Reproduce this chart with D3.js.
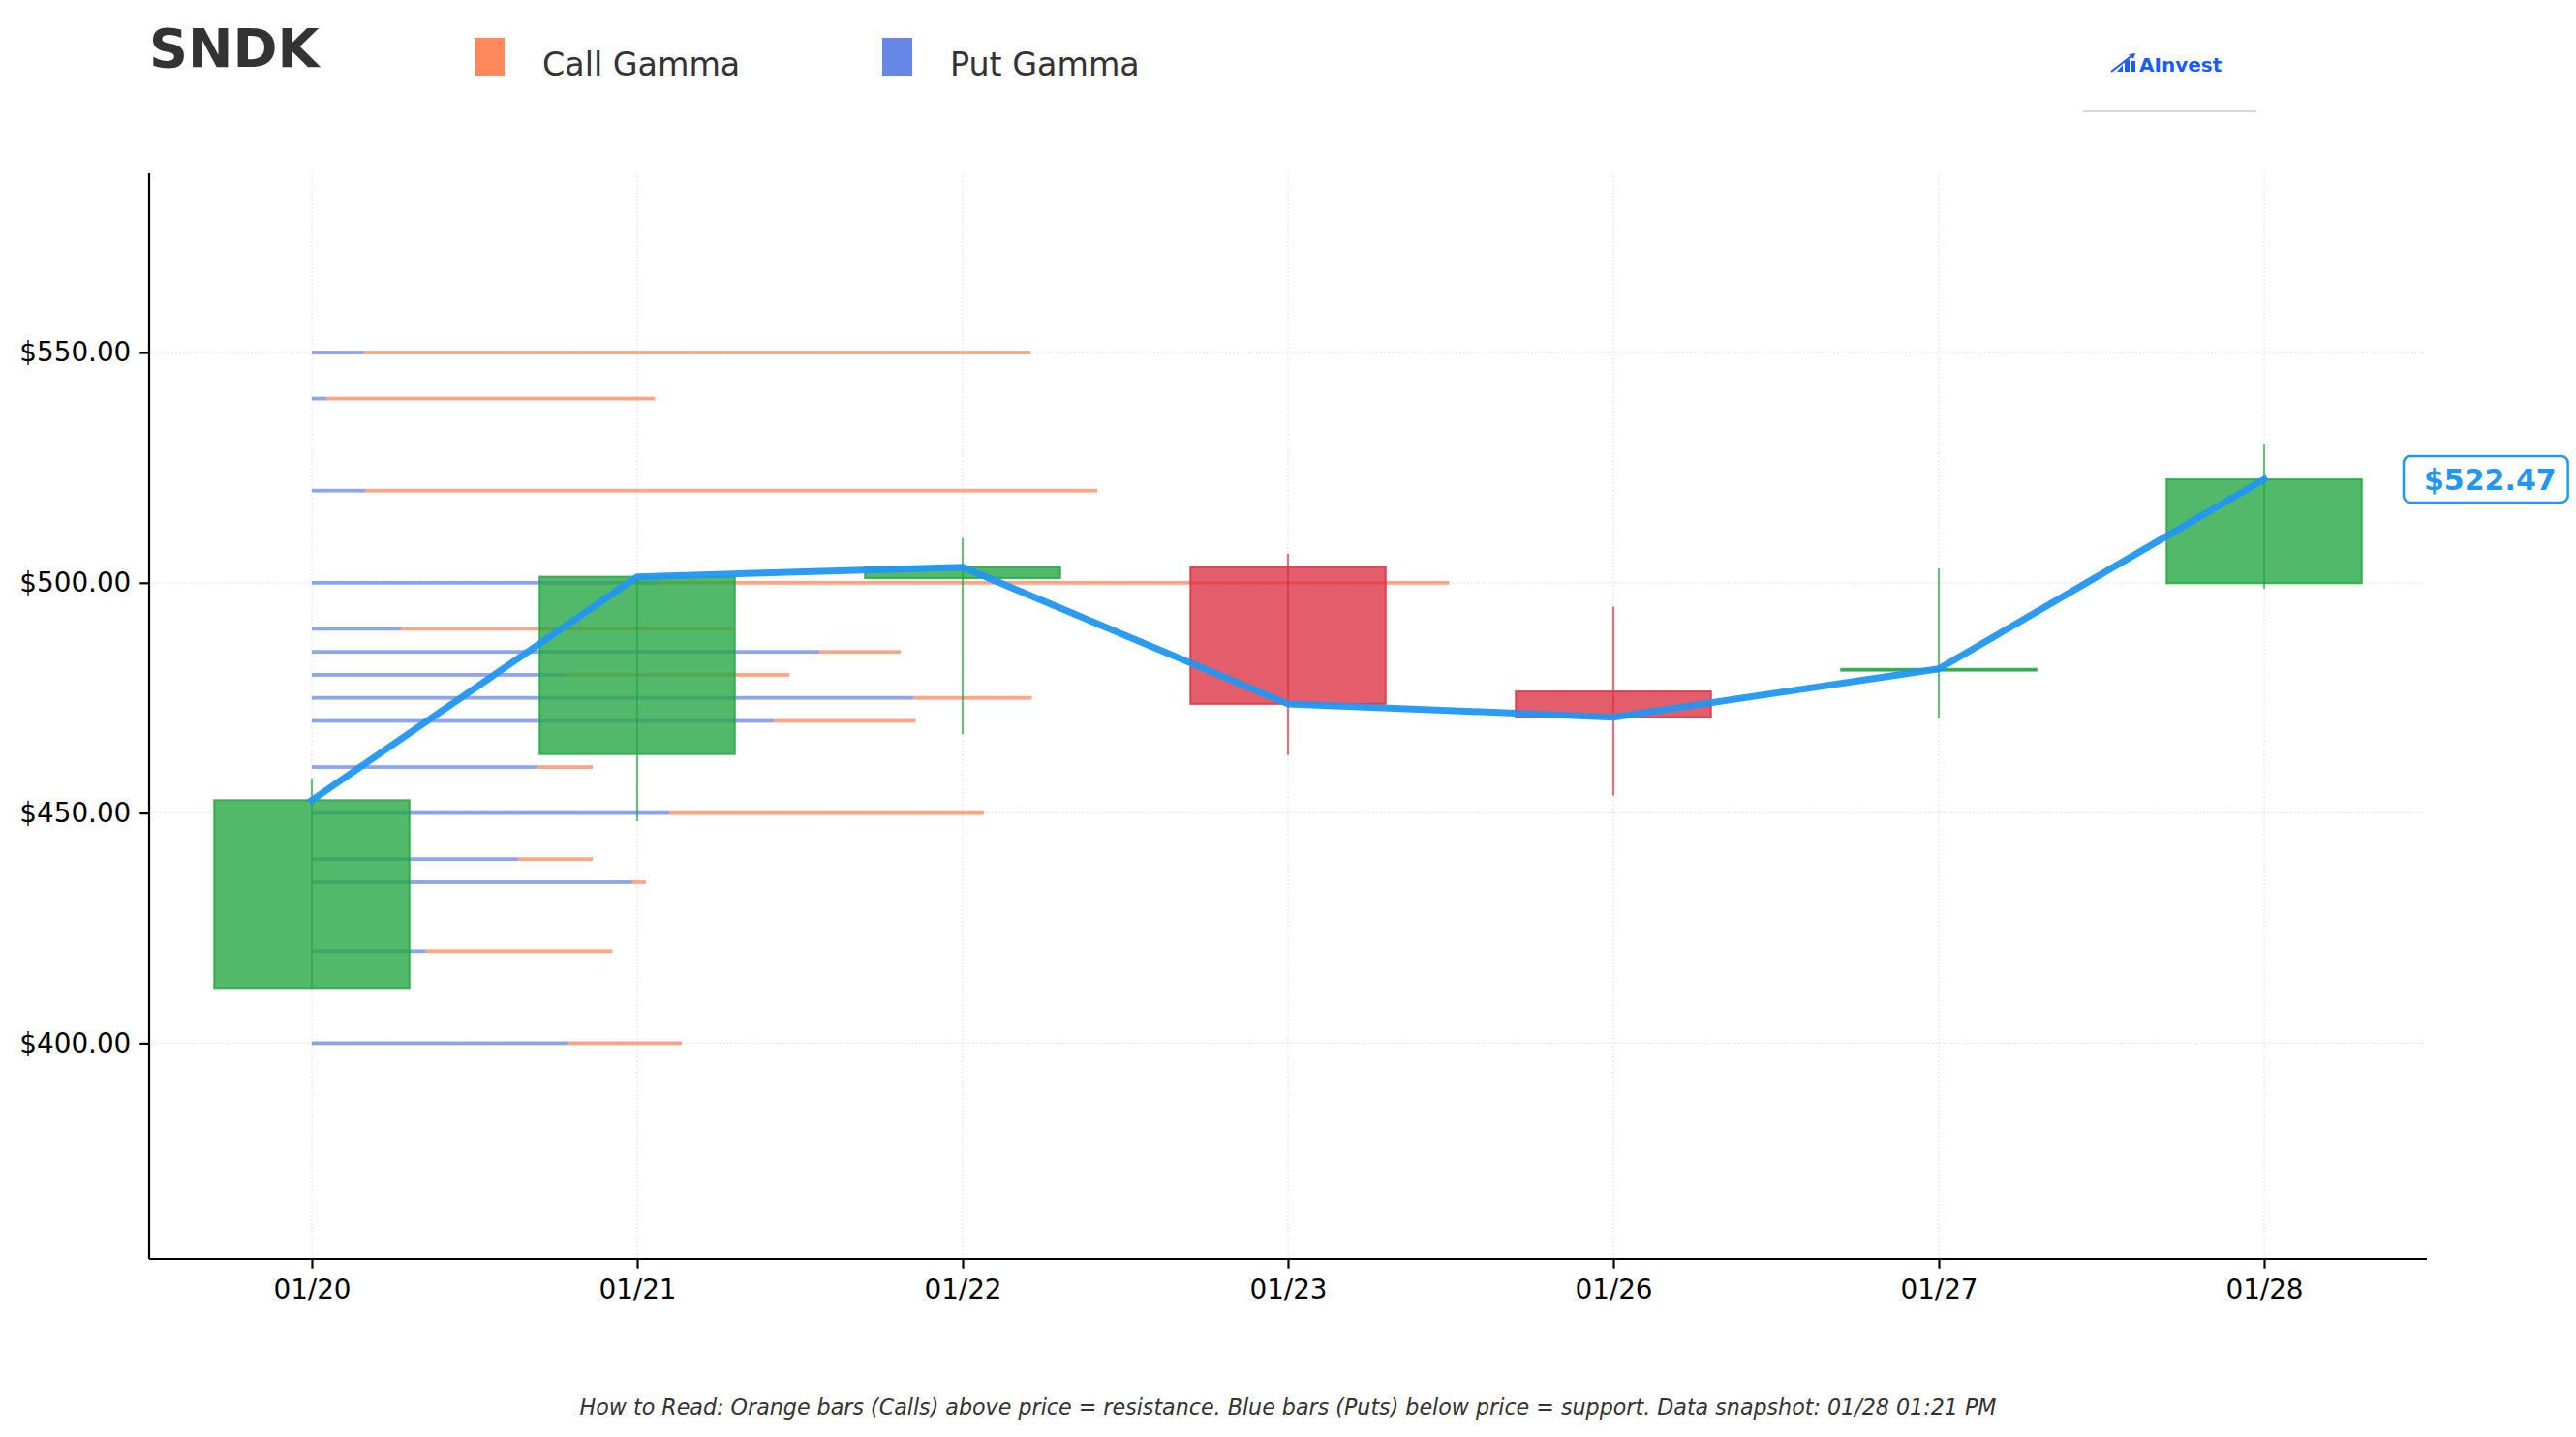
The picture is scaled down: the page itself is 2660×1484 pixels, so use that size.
<!DOCTYPE html>
<html>
<head>
<meta charset="utf-8">
<script src="https://cdn.jsdelivr.net/npm/d3@7"></script>
<style>
  body { margin: 0; background: #fff; }
  svg { display: block; font-family: "DejaVu Sans", sans-serif; }
</style>
</head>
<body>
<svg width="2660" height="1484"></svg>
<script>
var svg = d3.select("svg"),
    width = +svg.attr("width"),
    height = +svg.attr("height");

// daily candles
var dates = ['01/20', '01/21', '01/22', '01/23', '01/26', '01/27', '01/28'];
var opens  = [412.0, 462.8, 501.0, 503.4, 476.4, 480.9, 499.9];
var highs  = [457.5, 501.8, 509.7, 506.3, 494.8, 503.1, 530.0];
var lows   = [412.0, 448.2, 467.1, 462.6, 453.8, 470.6, 498.7];
var closes = [452.8, 501.3, 503.4, 473.7, 470.8, 481.3, 522.47];

// gamma by strike (relative units)
var strikes   = [550, 540, 520, 500, 490, 485, 480, 475, 470, 460, 450, 440, 435, 420, 400];
var putGamma  = [1.6, 0.45, 1.64, 10.65, 2.74, 15.6, 7.85, 18.5, 14.2, 6.93, 10.98, 6.34, 9.85, 3.5, 7.89];
var callGamma = [20.5, 10.1, 22.5, 24.3, 10.2, 2.5, 6.83, 3.63, 4.36, 1.7, 9.67, 2.29, 0.42, 5.74, 3.48];

var yTicks = [400, 450, 500, 550];
var lastPrice = 522.47;

var colCall = '#FF6B35', colPut = '#4169E1';
var colUp = '#28a745', colDown = '#dc3545', colLine = '#2196F3';

var m = { left: 154, right: 2506, top: 179, bottom: 1300 };

var x = d3.scaleLinear().domain([-0.5, dates.length - 0.5]).range([m.left, m.right]);
var y = d3.scaleLinear().domain([353.2, 588.9]).range([m.bottom, m.top]);
var gx = d3.scaleLinear().domain([0, 10]).range([0, x(1) - x(0)]);

// grid
var grid = svg.append("g").attr("class", "grid")
    .attr("stroke", "#dcdcdc").attr("stroke-width", 1.3).attr("stroke-dasharray", "1.3,2.6");
grid.selectAll("line.h").data(yTicks).enter().append("line")
    .attr("x1", m.left).attr("x2", m.right)
    .attr("y1", d => y(d)).attr("y2", d => y(d));
grid.selectAll("line.v").data(dates).enter().append("line")
    .attr("y1", m.top).attr("y2", m.bottom)
    .attr("x1", (d, i) => x(i)).attr("x2", (d, i) => x(i));

// gamma bars: puts from the first day, calls stacked after
var gamma = strikes.map((s, i) => ({ strike: s, put: putGamma[i], call: callGamma[i] }));
var barH = Math.abs(y(0.8) - y(0));
var bars = svg.append("g").attr("class", "gamma");
bars.selectAll("rect.put").data(gamma).enter().append("rect")
    .attr("x", x(0)).attr("y", d => y(d.strike) - barH / 2)
    .attr("width", d => gx(d.put)).attr("height", barH)
    .attr("fill", colPut).attr("fill-opacity", 0.6);
bars.selectAll("rect.call").data(gamma).enter().append("rect")
    .attr("x", d => x(0) + gx(d.put)).attr("y", d => y(d.strike) - barH / 2)
    .attr("width", d => gx(d.call)).attr("height", barH)
    .attr("fill", colCall).attr("fill-opacity", 0.6);

// candles
var candles = dates.map((d, i) => ({ i: i, o: opens[i], h: highs[i], l: lows[i], c: closes[i] }));
var cw = x(0.3) - x(0);
var cg = svg.append("g").attr("class", "candles");
cg.selectAll("line").data(candles).enter().append("line")
    .attr("x1", d => x(d.i)).attr("x2", d => x(d.i))
    .attr("y1", d => y(d.h)).attr("y2", d => y(d.l))
    .attr("stroke", d => d.c >= d.o ? colUp : colDown)
    .attr("stroke-opacity", 0.7).attr("stroke-width", 2.2);
cg.selectAll("rect").data(candles).enter().append("rect")
    .attr("x", d => x(d.i) - cw).attr("width", 2 * cw)
    .attr("y", d => y(Math.max(d.o, d.c)))
    .attr("height", d => Math.max(0.5, Math.abs(y(d.o) - y(d.c))))
    .attr("fill", d => d.c >= d.o ? colUp : colDown).attr("fill-opacity", 0.8)
    .attr("stroke", d => d.c >= d.o ? colUp : colDown).attr("stroke-opacity", 0.85)
    .attr("stroke-width", 2);

// close line
svg.append("path")
    .datum(closes)
    .attr("fill", "none")
    .attr("stroke", colLine).attr("stroke-opacity", 0.95)
    .attr("stroke-width", 7)
    .attr("stroke-linejoin", "round").attr("stroke-linecap", "square")
    .attr("d", d3.line().x((d, i) => x(i)).y(d => y(d)));

// axes
var yAxis = svg.append("g")
    .attr("transform", "translate(" + m.left + ",0)")
    .call(d3.axisLeft(y).tickValues(yTicks).tickFormat(d3.format("$.2f")).tickSizeOuter(0).tickSize(9.7).tickPadding(9));
var xAxis = svg.append("g")
    .attr("transform", "translate(0," + m.bottom + ")")
    .call(d3.axisBottom(x).tickValues(d3.range(dates.length)).tickFormat(i => dates[i]).tickSizeOuter(0).tickSize(9.7).tickPadding(12));
[yAxis, xAxis].forEach(function(a) {
  a.select(".domain").attr("stroke", "#000").attr("stroke-width", 2.2);
  a.selectAll(".tick line").attr("stroke", "#000").attr("stroke-width", 2.2);
  a.selectAll(".tick text").attr("fill", "#000")
    .style("font-family", "DejaVu Sans").style("font-size", "27.8px");
});
// spine should reach top of axes
yAxis.select(".domain").attr("d", "M0," + m.top + "V" + m.bottom);
xAxis.select(".domain").attr("d", "M" + m.left + ",0H" + m.right);

// title + legend
svg.append("text").attr("x", 154).attr("y", 69)
    .attr("font-size", 55.5).attr("font-weight", "bold").attr("fill", "#333")
    .text("SNDK");

var legend = [{ name: "Call Gamma", color: colCall, x: 490 }, { name: "Put Gamma", color: colPut, x: 911 }];
var lg = svg.append("g").selectAll("g").data(legend).enter().append("g")
    .attr("transform", d => "translate(" + d.x + ",0)");
lg.append("rect").attr("x", 0).attr("y", 39).attr("width", 31).attr("height", 40)
    .attr("fill", d => d.color).attr("fill-opacity", 0.8);
lg.append("text").attr("x", 70).attr("y", 78)
    .attr("font-size", 33.3).attr("fill", "#333").text(d => d.name);

// logo
var logo = svg.append("g").attr("transform", "translate(2180,55)");
logo.append("path").attr("d", "M0,19 L22,2").attr("stroke", "#1a5cff").attr("stroke-width", 2);
logo.append("path").attr("d", "M18,1 L25,0 L23,6 Z").attr("fill", "#1a5cff");
logo.append("path").attr("d", "M6,19 L12,12 L12,19 Z").attr("fill", "#1a5cff");
logo.append("path").attr("d", "M14,19 L14,9 L19,6 L19,19 Z").attr("fill", "#1a5cff");
logo.append("rect").attr("x", 21).attr("y", 8).attr("width", 4).attr("height", 11).attr("fill", "#1a5cff");
svg.append("text").attr("x", 2209).attr("y", 74)
    .attr("font-size", 20).attr("font-weight", "bold").attr("fill", "#1a5cff")
    .text("AInvest");
svg.append("line").attr("x1", 2151).attr("x2", 2330).attr("y1", 115).attr("y2", 115)
    .attr("stroke", "#cccccc").attr("stroke-width", 1.5);

// last price label
var pl = svg.append("g");
var pt = pl.append("text").attr("x", 2503).attr("y", y(lastPrice) + 11)
    .attr("font-size", 30).attr("font-weight", "bold").attr("fill", colLine)
    .text("$" + lastPrice.toFixed(2));
var bb = pt.node().getBBox();
pl.insert("rect", "text")
    .attr("x", bb.x - 21).attr("y", y(lastPrice) - 24)
    .attr("width", bb.width + 33).attr("height", 48)
    .attr("rx", 7).attr("fill", "#fff")
    .attr("stroke", colLine).attr("stroke-width", 2.5);

// footer
svg.append("text").attr("x", width / 2).attr("y", 1461)
    .attr("text-anchor", "middle").attr("font-size", 22.2).attr("font-style", "italic").attr("fill", "#333")
    .text("How to Read: Orange bars (Calls) above price = resistance. Blue bars (Puts) below price = support. Data snapshot: 01/28 01:21 PM");
</script>
</body>
</html>
